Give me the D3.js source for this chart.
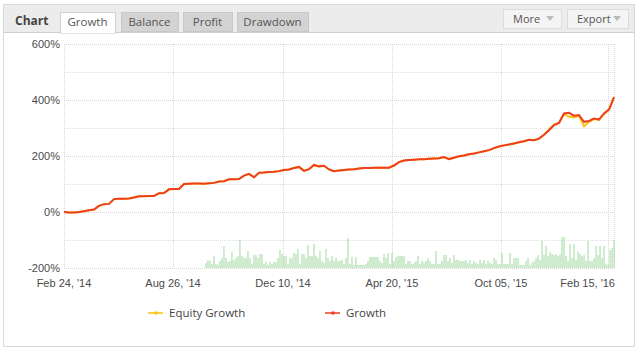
<!DOCTYPE html>
<html>
<head>
<meta charset="utf-8">
<script src="https://cdn.jsdelivr.net/npm/d3@7"></script>
<style>
  body { margin: 0; background: #fff; }
  text { font-family: "Liberation Sans", Arial, sans-serif; }
  .ui { font-family: "Open Sans", "DejaVu Sans", sans-serif; }
</style>
</head>
<body>
<div id="chart"></div>
<script>
// Tabs and buttons in the header
const tabLabels = ["Growth", "Balance", "Profit", "Drawdown"];
const buttonLabels = ["More", "Export"];

// Y axis ticks (%)
const yGridTicks = [-200, -100, 0, 100, 200, 300, 400, 500, 600];
const yLabelTicks = [-200, 0, 200, 400, 600];

// X axis (ordinal, by point index)
const xTickIndex = [0, 21.8, 43.8, 65.6, 87.4, 108.8];
const xTickLabels = ["Feb 24, '14", "Aug 26, '14", "Dec 10, '14", "Apr 20, '15", "Oct 05, '15", "Feb 15, '16"];

// Growth series (%)
const growth = [
  0, -2, -2, 0, 3, 6, 9, 22, 28, 29,
  46, 47, 47, 48, 52, 56, 56, 57, 57, 67,
  68, 81, 82, 82, 100, 101, 102, 102, 101, 103,
  104, 109, 110, 117, 117, 118, 130, 136, 124, 140,
  141, 143, 144, 146, 150, 152, 157, 161, 147, 153,
  168, 163, 165, 152, 146, 148, 150, 152, 153, 155,
  157, 157, 158, 158, 158, 158, 166, 178, 184, 186,
  187, 188, 188, 190, 191, 192, 196, 189, 194, 199,
  202, 206, 209, 213, 217, 221, 228, 234, 238, 241,
  245, 249, 253, 258, 256, 262, 276, 292, 310, 318,
  352, 354, 344, 346, 322, 325, 334, 330, 352, 366,
  410
];

// Equity growth series (%)
const equityGrowth = [
  0, -2, -2, 0, 3, 6, 9, 22, 28, 29,
  46, 47, 47, 48, 52, 56, 56, 57, 57, 67,
  68, 81, 82, 82, 100, 101, 102, 102, 101, 103,
  104, 109, 110, 117, 117, 118, 130, 136, 124, 140,
  141, 143, 144, 146, 150, 152, 157, 161, 147, 153,
  168, 163, 165, 152, 146, 148, 150, 152, 153, 155,
  157, 157, 158, 158, 158, 158, 166, 178, 184, 186,
  187, 188, 188, 190, 191, 192, 196, 189, 194, 199,
  202, 206, 209, 213, 217, 221, 228, 234, 238, 241,
  245, 249, 253, 258, 256, 262, 276, 295, 312, 318,
  350, 340, 338, 344, 306, 322, 332, 330, 350, 366,
  408
];

// Green histogram at the bottom
const bars = [
  5, 8, 7, 4, 12, 4, 3, 7, 10, 22,
  10, 6, 7, 16, 8, 10, 12, 28, 12, 10,
  10, 17, 10, 4, 13, 13, 10, 14, 14, 4,
  6, 3, 6, 4, 6, 6, 10, 18, 14, 12,
  12, 4, 10, 10, 15, 14, 19, 4, 14, 14,
  10, 23, 12, 12, 24, 12, 10, 17, 7, 5,
  19, 10, 7, 12, 7, 10, 7, 7, 8, 4,
  10, 30,
  4, 11, 3, 11, 3, 3, 3, 3, 4, 7,
  11, 11, 11, 11, 11, 7, 5, 14, 10, 15,
  4, 15, 7, 11, 12, 12, 12, 12, 4, 7,
  7, 4, 5, 7, 12, 4, 7, 5, 7, 10,
  7, 4, 4, 17, 4, 4, 7, 13, 13, 7,
  10, 5, 13, 8, 8, 7, 7, 7, 8, 5,
  8, 4, 7, 5, 4, 8, 5, 8, 4, 7,
  5, 4, 10, 8, 4, 4, 15, 4, 4, 4,
  15, 4, 10, 10, 10, 3, 3, 3, 7, 10,
  3, 5, 7, 10, 13, 8, 27, 13, 22, 12,
  16, 14, 13, 14, 12, 14, 31, 31, 12, 7,
  24, 10, 24, 8, 16, 14, 12, 13, 7, 27,
  7, 7, 10, 22, 13, 22, 10, 22, 4, 3,
  18, 20, 28
];

const legendItems = [
  { name: "Equity Growth", color: "#ffc20e" },
  { name: "Growth", color: "#ee3f1f" }
];

const width = 640;
const height = 353;

const svg = d3.select("#chart")
  .append("svg")
  .attr("width", width)
  .attr("height", height);

// Panel
svg.append("rect")
  .attr("x", 3.5).attr("y", 4.5)
  .attr("width", 631).attr("height", 342)
  .attr("fill", "#fff")
  .attr("stroke", "#d8d8d8");

// Header band
svg.append("rect")
  .attr("x", 4).attr("y", 5)
  .attr("width", 630).attr("height", 27)
  .attr("fill", "#ececec");
svg.append("line")
  .attr("x1", 4).attr("x2", 634)
  .attr("y1", 32.5).attr("y2", 32.5)
  .attr("stroke", "#d0d0d0");

svg.append("text")
  .attr("class", "ui")
  .attr("x", 15).attr("y", 25)
  .attr("font-size", 12)
  .attr("font-weight", "bold")
  .attr("fill", "#444")
  .text("Chart");

// Tabs
const tabX = [60, 121, 183, 237];
const tabW = [55, 57, 49, 71];
tabLabels.forEach((t, i) => {
  const active = i === 0;
  svg.append("rect")
    .attr("x", tabX[i] + 0.5).attr("y", 12.5)
    .attr("width", tabW[i]).attr("height", active ? 20.5 : 19)
    .attr("fill", active ? "#fff" : "#d3d3d3")
    .attr("stroke", active ? "#cfcfcf" : "#c8c8c8");
  svg.append("text")
    .attr("class", "ui")
    .attr("x", tabX[i] + tabW[i] / 2).attr("y", 26)
    .attr("text-anchor", "middle")
    .attr("font-size", 11.5)
    .attr("fill", "#555")
    .text(t);
});
// cover the header bottom line under the active tab
svg.append("line")
  .attr("x1", tabX[0] + 1).attr("x2", tabX[0] + tabW[0])
  .attr("y1", 32.5).attr("y2", 32.5)
  .attr("stroke", "#fff");

// Buttons
const btnX = [503, 567];
const btnW = [58, 61];
buttonLabels.forEach((b, i) => {
  svg.append("rect")
    .attr("x", btnX[i] + 0.5).attr("y", 9.5)
    .attr("width", btnW[i]).attr("height", 19)
    .attr("fill", "#f4f4f4")
    .attr("stroke", "#dcdcdc");
  svg.append("text")
    .attr("class", "ui")
    .attr("x", btnX[i] + 10).attr("y", 23)
    .attr("font-size", 11)
    .attr("fill", "#555")
    .text(b);
  const ax = btnX[i] + btnW[i] - 11;
  svg.append("path")
    .attr("d", `M${ax - 4},16 L${ax + 4},16 L${ax},21 Z`)
    .attr("fill", "#bbb");
});

// Plot area
const plot = { left: 64, right: 614, top: 44, bottom: 268 };

const x = d3.scaleLinear()
  .domain([0, growth.length - 1])
  .range([plot.left, plot.right]);

const y = d3.scaleLinear()
  .domain([-200, 600])
  .range([plot.bottom, plot.top]);

const xBar = d3.scaleBand()
  .domain(d3.range(bars.length))
  .range([204.5, 615.5])
  .padding(0.45);

const yBar = d3.scaleLinear()
  .domain([0, 56])
  .range([plot.bottom, plot.bottom - 56]);

// Horizontal grid
svg.append("g")
  .selectAll("line")
  .data(yGridTicks)
  .join("line")
  .attr("x1", plot.left).attr("x2", plot.right)
  .attr("y1", (d) => Math.round(y(d)) + 0.5)
  .attr("y2", (d) => Math.round(y(d)) + 0.5)
  .attr("stroke", (d) => (d % 200 === 0 ? "#d4d4d4" : "#dedede"))
  .attr("stroke-dasharray", "1,1");

// Vertical grid
svg.append("g")
  .selectAll("line")
  .data(xTickIndex.concat([growth.length - 1]))
  .join("line")
  .attr("x1", (d) => Math.round(x(d)) + 0.5)
  .attr("x2", (d) => Math.round(x(d)) + 0.5)
  .attr("y1", plot.top).attr("y2", plot.bottom)
  .attr("stroke", "#d6d6d6")
  .attr("stroke-dasharray", "1,1");

// Bars
svg.append("g")
  .selectAll("rect")
  .data(bars)
  .join("rect")
  .attr("x", (d, i) => xBar(i))
  .attr("y", (d) => yBar(d))
  .attr("width", xBar.bandwidth())
  .attr("height", (d) => yBar(0) - yBar(d))
  .attr("fill", "#a9dca9");

// Lines
const line = d3.line()
  .x((d, i) => x(i))
  .y((d) => y(d));

svg.append("path")
  .datum(equityGrowth)
  .attr("d", line)
  .attr("fill", "none")
  .attr("stroke", legendItems[0].color)
  .attr("stroke-width", 2);

svg.append("path")
  .datum(growth)
  .attr("d", line)
  .attr("fill", "none")
  .attr("stroke", legendItems[1].color)
  .attr("stroke-width", 2);

// Y labels
svg.append("g")
  .selectAll("text")
  .data(yLabelTicks)
  .join("text")
  .attr("x", 60)
  .attr("y", (d) => y(d) + 4)
  .attr("text-anchor", "end")
  .attr("font-size", 11)
  .attr("fill", "#4a4a4a")
  .text((d) => d + "%");

// X labels
svg.append("g")
  .selectAll("text")
  .data(xTickIndex)
  .join("text")
  .attr("x", (d, i) => (i === xTickIndex.length - 1 ? plot.right + 1 : x(d)))
  .attr("y", 287)
  .attr("text-anchor", (d, i) => (i === xTickIndex.length - 1 ? "end" : "middle"))
  .attr("font-size", 11)
  .attr("fill", "#4a4a4a")
  .text((d, i) => xTickLabels[i]);

// Legend
const legendX = [148, 325];
legendItems.forEach((item, i) => {
  const g = svg.append("g").attr("transform", `translate(${legendX[i]},313)`);
  g.append("line")
    .attr("x1", 0).attr("x2", 15)
    .attr("y1", 0).attr("y2", 0)
    .attr("stroke", item.color)
    .attr("stroke-width", 1.5);
  g.append("circle")
    .attr("cx", 8).attr("cy", 0).attr("r", 1.8)
    .attr("fill", item.color);
  g.append("text")
    .attr("class", "ui")
    .attr("x", 21).attr("y", 4)
    .attr("font-size", 11.5)
    .attr("fill", "#444")
    .text(item.name);
});
</script>
</body>
</html>
